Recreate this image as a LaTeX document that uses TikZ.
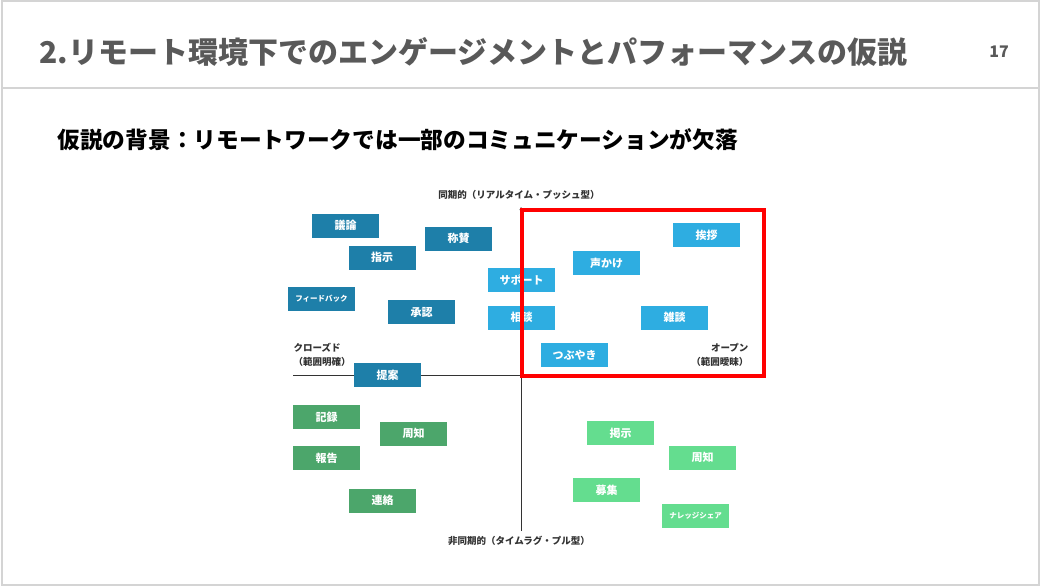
\documentclass[tikz,border=0pt]{standalone}
\usepackage{fontspec}
\setmainfont{Noto Sans CJK JP}
\usetikzlibrary{arrows.meta}
\definecolor{slateblue}{HTML}{1E7FA9}
\definecolor{skyblue}{HTML}{2EADE1}
\definecolor{leafgreen}{HTML}{4CA66B}
\definecolor{mintgreen}{HTML}{64DD8F}
\definecolor{framegray}{HTML}{D4D4D4}
\begin{document}
\begin{tikzpicture}[x=1pt,y=-1pt,
    card/.style={minimum width=67pt,minimum height=24pt,inner sep=0pt,
        text=white,font=\bfseries\fontsize{11}{11}\selectfont},
    tinycard/.style={card,font=\bfseries\fontsize{7.5}{7.5}\selectfont},
    axislabel/.style={text=black!80,font=\bfseries\fontsize{9.5}{14}\selectfont}]
    \useasboundingbox (0,0) rectangle (1041,587);
    %% Slide frame and title
    \draw[framegray,line width=2pt] (2,1) rectangle (1039,585);
    \draw[framegray,line width=2pt] (2,88) -- (1039,88);
    \node[anchor=west,text=black!65,font=\bfseries\fontsize{30}{32}\selectfont]
        (title) at (36,52) {2.リモート環境下でのエンゲージメントとパフォーマンスの仮説};
    \node[text=black!65,font=\bfseries\fontsize{16}{16}\selectfont] (page) at (999,52) {17};
    \node[anchor=west,font=\bfseries\fontsize{22.7}{24}\selectfont]
        (lead) at (54,140) {仮説の背景：リモートワークでは一部のコミュニケーションが欠落};
    %% Axes
    \coordinate (west) at (293,375);
    \coordinate (east) at (766,375);
    \coordinate (south) at (521,531);
    \coordinate (north) at (521,207);
    \draw[black!80,semithick,-{Stealth[length=3pt,width=3pt]}] (west) -- (east);
    \draw[black!80,semithick,-{Stealth[length=3pt,width=3pt]}] (south) -- (north);
    \node[axislabel,anchor=south] (sync) at (519,203) {同期的（リアルタイム・プッシュ型）};
    \node[axislabel,anchor=north] (async) at (519,533) {非同期的（タイムラグ・プル型）};
    \node[axislabel,anchor=west,align=left] (closed) at (290,355) {クローズド\\（範囲明確）};
    \node[axislabel,anchor=east,align=right] (open) at (752,355) {オープン\\（範囲曖昧）};
    %% Synchronous, closed
    \node[card,fill=slateblue] (debate) at (345.5,225.5) {議論};
    \node[card,fill=slateblue] (order) at (382,257.5) {指示};
    \node[card,fill=slateblue] (praise) at (458.5,238.5) {称賛};
    \node[tinycard,fill=slateblue] (feedback) at (321.5,299) {フィードバック};
    \node[card,fill=slateblue] (approve) at (421.5,312) {承認};
    \node[card,fill=slateblue] (propose) at (387.5,375) {提案};
    %% Synchronous, open
    \node[card,fill=skyblue] (support) at (521.5,280) {サポート};
    \node[card,fill=skyblue] (consult) at (521.5,317.5) {相談};
    \node[card,fill=skyblue] (callout) at (606.5,263) {声かけ};
    \node[card,fill=skyblue] (greet) at (706.5,235) {挨拶};
    \node[card,fill=skyblue] (chat) at (674.5,317.5) {雑談};
    \node[card,fill=skyblue] (murmur) at (574.5,355) {つぶやき};
    %% Asynchronous, closed
    \node[card,fill=leafgreen] (record) at (326.5,417) {記録};
    \node[card,fill=leafgreen] (notice) at (413.5,433.5) {周知};
    \node[card,fill=leafgreen] (report) at (326.5,458) {報告};
    \node[card,fill=leafgreen] (contact) at (382.5,500.5) {連絡};
    %% Asynchronous, open
    \node[card,fill=mintgreen] (board) at (620.5,433) {掲示};
    \node[card,fill=mintgreen] (announce) at (702.5,457.5) {周知};
    \node[card,fill=mintgreen] (recruit) at (606.5,490) {募集};
    \node[tinycard,fill=mintgreen] (knowledge) at (695.5,516) {ナレッジシェア};
    %% Highlight
    \draw[red,line width=3.2pt] (522,210) rectangle (764,376);
\end{tikzpicture}
\end{document}
